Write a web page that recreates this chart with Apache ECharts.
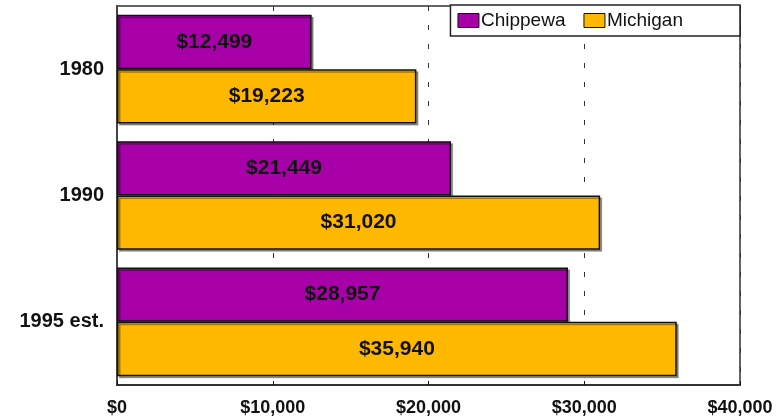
<!DOCTYPE html>
<html><head><meta charset="utf-8">
<script src="https://cdn.jsdelivr.net/npm/echarts@6/dist/echarts.min.js"></script>
<style>html,body{margin:0;padding:0;background:#fff}#c{width:781px;height:419px}</style>
</head><body><div id="c"></div>
<script>
var categories = ['1980', '1990', '1995 est.'];
var seriesNames = ['Chippewa', 'Michigan'];
var chippewa = [12499, 21449, 28957];
var michigan = [19223, 31020, 35940];
var xTicks = [0, 10000, 20000, 30000, 40000];

function money(v){ return '$' + v.toString().replace(/\B(?=(\d{3})+(?!\d))/g, ','); }

var chart = echarts.init(document.getElementById('c'), null, {renderer:'canvas'});
var labelStyle = {show:true, position:'inside', formatter:function(p){return money(p.value);},
  color:'#111', fontFamily:'Liberation Sans, Arial, sans-serif', fontWeight:'bold', fontSize:21};
function bar(name, data, color){
  return {name:name, type:'bar', data:data, barGap:'0%', barCategoryGap:'14%',
    itemStyle:{color:color, borderColor:'#111', borderWidth:1.5, shadowColor:'rgba(0,0,0,0.35)', shadowOffsetX:2, shadowOffsetY:2, shadowBlur:0},
    label:labelStyle, emphasis:{disabled:true}, animation:false};
}
chart.setOption({
  animation:false,
  grid:{left:117, right:41, top:6, bottom:34, show:true, borderColor:'#333', borderWidth:1.5, backgroundColor:'#fff'},
  legend:{data:seriesNames, right:41, top:5, orient:'horizontal', backgroundColor:'#fff', borderColor:'#222', borderWidth:1.5,
    padding:[6,57,6,7], itemGap:18, itemWidth:21, itemHeight:14, icon:'rect',
    itemStyle:{borderColor:'#111', borderWidth:1},
    textStyle:{fontFamily:'Liberation Sans, Arial, sans-serif', fontSize:19, color:'#111', padding:[0,0,0,-3]}},
  xAxis:{type:'value', min:xTicks[0], max:xTicks[xTicks.length-1], interval:10000,
    axisLine:{show:true, lineStyle:{color:'#333', width:2}},
    axisTick:{show:true, inside:true, length:4, lineStyle:{color:'#111'}},
    splitLine:{show:true, lineStyle:{color:'#333', width:1, type:[5,14]}},
    axisLabel:{formatter:function(v){return money(v);}, margin:14, color:'#111',
      fontFamily:'Liberation Sans, Arial, sans-serif', fontWeight:'bold', fontSize:18}},
  yAxis:{type:'category', data:categories, inverse:true,
    axisLine:{show:true, lineStyle:{color:'#444', width:2}},
    axisTick:{show:false},
    axisLabel:{margin:13, color:'#111', fontFamily:'Liberation Sans, Arial, sans-serif', fontWeight:'bold', fontSize:20}},
  series:[bar(seriesNames[0], chippewa, '#A800A8'), bar(seriesNames[1], michigan, '#FFB800')]
});
</script></body></html>
